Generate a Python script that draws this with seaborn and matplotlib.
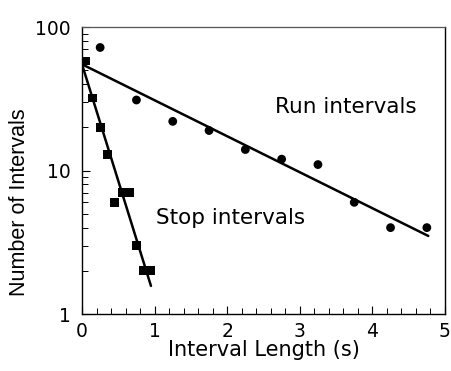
import matplotlib
matplotlib.use("Agg")
import matplotlib.pyplot as plt
from matplotlib.ticker import FixedLocator, NullFormatter
import seaborn as sns
import pandas as pd

# Interval-length histograms (counts per bin, bin centres in seconds)
run_t = [0.25, 0.75, 1.25, 1.75, 2.25, 2.75, 3.25, 3.75, 4.25, 4.75]
run_n = [72, 31, 22, 19, 14, 12, 11, 6, 4, 4]
stop_t = [0.05, 0.15, 0.25, 0.35, 0.45, 0.55, 0.65, 0.75, 0.85, 0.95]
stop_n = [58, 32, 20, 13, 6, 7, 7, 3, 2, 2]

# Single-exponential fits (straight lines on the log axis), end points
run_fit_t = [0.0, 4.77]
run_fit_n = [55.0, 3.5]
stop_fit_t = [0.0, 0.95]
stop_fit_n = [55.0, 1.57]

x_ticks = [0, 1, 2, 3, 4, 5]
y_ticks = [1, 10, 100]
y_tick_labels = ["1", "10", "100"]

sns.set_style("white")
plt.rcParams["font.family"] = ["DejaVu Sans"]
plt.rcParams.update({"text.color": "black", "axes.labelcolor": "black",
                     "xtick.color": "black", "ytick.color": "black"})

fig = plt.figure(figsize=(4.52, 3.71), dpi=100)
ax = fig.add_axes([0.1814, 0.1536, 0.8031, 0.7736])

run_df = pd.DataFrame({"t": run_t, "n": run_n})
stop_df = pd.DataFrame({"t": stop_t, "n": stop_n})
run_fit = pd.DataFrame({"t": run_fit_t, "n": run_fit_n})
stop_fit = pd.DataFrame({"t": stop_fit_t, "n": stop_fit_n})

sns.lineplot(data=run_fit, x="t", y="n", ax=ax, color="black", lw=1.8)
sns.lineplot(data=stop_fit, x="t", y="n", ax=ax, color="black", lw=1.8)
sns.scatterplot(data=run_df, x="t", y="n", ax=ax, color="black",
                marker="o", s=40, edgecolor="none", zorder=3)
sns.scatterplot(data=stop_df, x="t", y="n", ax=ax, color="black",
                marker="s", s=40, edgecolor="none", zorder=3)

ax.set_yscale("log")
ax.set_xlim(0, 5)
ax.set_ylim(1, 100)

ax.xaxis.set_major_locator(FixedLocator(x_ticks))
ax.xaxis.set_minor_locator(FixedLocator([i * 0.2 for i in range(26)]))
ax.yaxis.set_major_locator(FixedLocator(y_ticks))
ax.yaxis.set_minor_locator(FixedLocator([m * d for d in (1, 10) for m in range(2, 10)]))
ax.yaxis.set_minor_formatter(NullFormatter())
ax.set_yticklabels(y_tick_labels)

ax.tick_params(axis="both", which="major", direction="in", length=6, width=0.8,
               color="black", labelcolor="black", labelsize=13.5, pad=8,
               bottom=True, left=True, top=False, right=False)
ax.tick_params(axis="x", which="major", pad=6)
ax.tick_params(axis="both", which="minor", direction="in", length=4, width=0.7,
               color="black", bottom=True, left=True, top=False, right=False)

for side in ("left", "bottom", "right"):
    ax.spines[side].set_visible(True)
    ax.spines[side].set_color("black")
    ax.spines[side].set_linewidth(1.0)
ax.spines["top"].set_visible(True)
ax.spines["top"].set_color("#555555")
ax.spines["top"].set_linewidth(0.9)

ax.set_xlabel("Interval Length (s)", fontsize=15, labelpad=-1, color="black")
ax.set_ylabel("Number of Intervals", fontsize=15.5, labelpad=4, color="black",
              y=0.39, family=["Liberation Sans", "DejaVu Sans"])

ax.text(3.64, 27.7, "Run intervals", fontsize=15.5, ha="center", va="center")
ax.text(2.04, 4.65, "Stop intervals", fontsize=15.5, ha="center", va="center")

fig.savefig("out.png", dpi=100)
